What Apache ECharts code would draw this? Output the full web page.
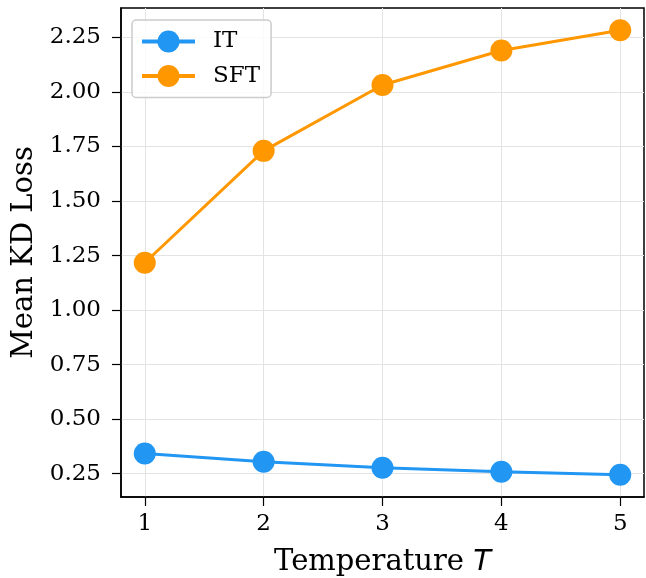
<!DOCTYPE html>
<html><head><meta charset="utf-8">
<script src="https://cdn.jsdelivr.net/npm/echarts@6/dist/echarts.min.js"></script>
<style>html,body{margin:0;padding:0;background:#fff}#c{width:646px;height:578px}</style>
</head><body><div id="c"></div>
<script>
const temperatures = [1, 2, 3, 4, 5];
const itLoss = [0.342, 0.305, 0.277, 0.259, 0.245];
const sftLoss = [1.217, 1.730, 2.032, 2.190, 2.283];
const xTicks = [1, 2, 3, 4, 5];
const yTicks = [0.25, 0.50, 0.75, 1.00, 1.25, 1.50, 1.75, 2.00, 2.25];

const font = 'DejaVu Serif';
const chart = echarts.init(document.getElementById('c'), null, {renderer: 'canvas'});
const gridLine = {lineStyle: {color: '#e3e3e3', width: 1}};
chart.setOption({
  animation: false,
  backgroundColor: '#fff',
  grid: {left: 121, right: 2, top: 8, bottom: 81, show: true, borderColor: '#000', borderWidth: 1.5, backgroundColor: 'transparent', outerBoundsMode: 'none', containLabel: false},
  legend: {
    left: 132, top: 20, orient: 'vertical', itemGap: 11.5,
    itemWidth: 53, itemHeight: 27.5,
    backgroundColor: 'rgba(255,255,255,0.8)', borderColor: '#cccccc', borderWidth: 1.5, borderRadius: 4,
    padding: [10, 11, 10, 8],
    lineStyle: {width: 4},
    textStyle: {fontFamily: font, fontSize: 23, color: '#000', padding: [0, 0, 0, 13]},
    data: ['IT', 'SFT']
  },
  xAxis: {
    type: 'value', min: 0.8, max: 5.2,
    name: '{a|Temperature }{b|T}', nameLocation: 'middle', nameGap: 51,
    nameTextStyle: {rich: {a: {fontFamily: font, fontSize: 29, color: '#000'}, b: {fontFamily: 'DejaVu Sans', fontStyle: 'italic', fontSize: 29, color: '#000'}}},
    axisLine: {show: true, lineStyle: {color: '#000', width: 1.5}},
    axisTick: {show: true, length: 9, inside: false, customValues: xTicks, lineStyle: {color: '#000', width: 1.2}},
    axisLabel: {customValues: xTicks, fontFamily: font, fontSize: 23, color: '#000', margin: 16},
    splitLine: {show: true, ...gridLine}
  },
  yAxis: {
    type: 'value', min: 0.143, max: 2.385,
    name: 'Mean KD Loss', nameLocation: 'middle', nameGap: 82,
    nameTextStyle: {fontFamily: font, fontSize: 29, color: '#000'},
    axisLine: {show: true, lineStyle: {color: '#000', width: 1.5}},
    axisTick: {show: true, length: 9, customValues: yTicks, lineStyle: {color: '#000', width: 1.2}},
    axisLabel: {customValues: yTicks, fontFamily: font, fontSize: 23, color: '#000', margin: 20, formatter: v => v.toFixed(2)},
    splitLine: {show: true, ...gridLine}
  },
  series: [
    {name: 'IT', type: 'line', data: temperatures.map((t, i) => [t, itLoss[i]]),
     symbol: 'circle', symbolSize: 22, lineStyle: {width: 3, color: '#2196F3'}, itemStyle: {color: '#2196F3'}},
    {name: 'SFT', type: 'line', data: temperatures.map((t, i) => [t, sftLoss[i]]),
     symbol: 'circle', symbolSize: 22, lineStyle: {width: 3, color: '#FF9800'}, itemStyle: {color: '#FF9800'}}
  ]
});
</script></body></html>
